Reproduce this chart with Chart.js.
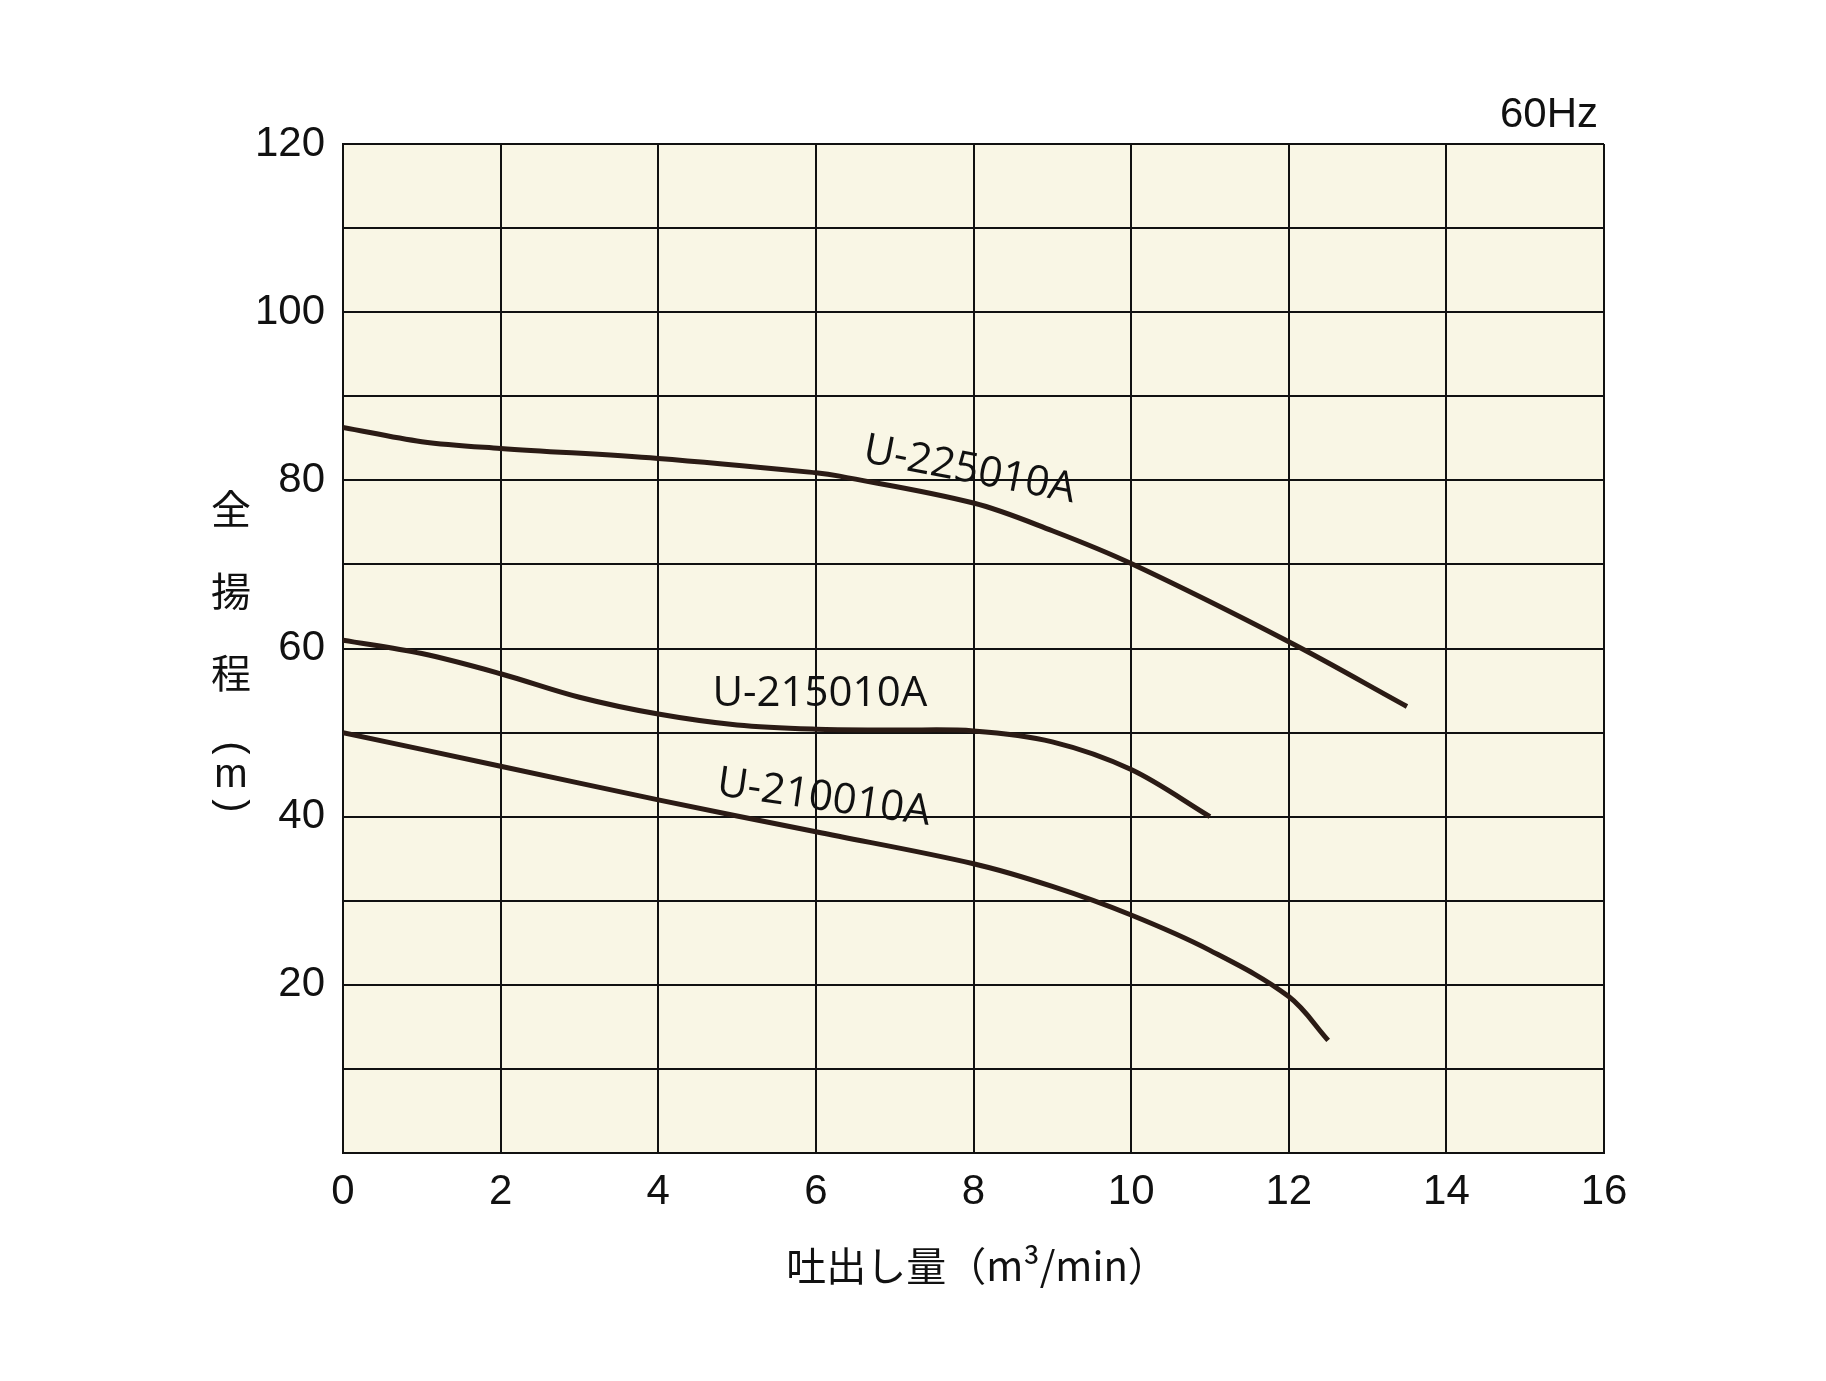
<!DOCTYPE html>
<html><head><meta charset="utf-8">
<script src="https://cdn.jsdelivr.net/npm/chart.js@4"></script>
<style>html,body{margin:0;background:#fff}#c{display:block}</style>
</head><body>
<div style="width:1826px;height:1381px"><canvas id="c"></canvas></div>
<script>
const flowU225 = [0, 1, 2, 4, 6, 6.3, 8, 9, 10, 12, 13.5];
const headU225 = [86.3, 84.6, 83.8, 82.6, 80.9, 80.5, 77.3, 74, 70.1, 60.8, 53.1];
const flowU215 = [0, 1, 2, 3, 4, 5, 6, 7, 8, 9, 10, 11];
const headU215 = [61, 59.4, 57, 54.2, 52.2, 50.9, 50.4, 50.3, 50.2, 48.9, 45.6, 40];
const flowU210 = [0, 2, 4, 6, 8, 9, 10, 11, 12, 12.5];
const headU210 = [50, 46, 42, 38.2, 34.4, 31.7, 28.3, 24.1, 18.6, 13.4];
const curveNames = ['U-225010A', 'U-215010A', 'U-210010A'];

const lineColor = '#2b1b15';
const font = "'Liberation Sans', 'Noto Sans CJK JP', sans-serif";
const toPts = (xs, ys) => xs.map((x, i) => ({x: x, y: ys[i]}));

// curve names, drawn at data positions
const labelSpots = [
  {name: curveNames[0], x: 7.95, y: 81.2, rot: 11},
  {name: curveNames[1], x: 6.05, y: 54.6, rot: 0},
  {name: curveNames[2], x: 6.1, y: 42.2, rot: 8}
];

const extras = {
  id: 'extras',
  beforeDraw(chart) {
    const {ctx, chartArea: a} = chart;
    ctx.save();
    ctx.fillStyle = '#f9f6e5';
    ctx.fillRect(a.left, a.top, a.right - a.left, a.bottom - a.top);
    ctx.restore();
  },
  afterDraw(chart) {
    const {ctx, scales: {x, y}} = chart;
    ctx.save();
    ctx.fillStyle = '#111';
    ctx.font = "42px 'Open Sans', sans-serif";
    labelSpots.forEach(s => {
      ctx.save();
      ctx.translate(x.getPixelForValue(s.x), y.getPixelForValue(s.y));
      ctx.rotate(s.rot * Math.PI / 180);
      ctx.textAlign = 'center';
      ctx.textBaseline = 'middle';
      ctx.fillText(s.name, 0, 0);
      ctx.restore();
    });
    ctx.font = '42px ' + font;
    ctx.textAlign = 'right';
    ctx.textBaseline = 'alphabetic';
    ctx.fillText('60Hz', 1598, 127);
    ctx.textAlign = 'center';
    ctx.textBaseline = 'middle';
    ctx.font = "40px 'Noto Sans CJK JP'";
    ctx.fillText('吐出し量（m³/min）', 977, 1266);
    ['全', '揚', '程'].forEach((t, i) => ctx.fillText(t, 231, 509 + i * 82));
    ctx.font = "40px 'Liberation Sans'";
    ctx.fillText('m', 231, 776);
    [['(', 748], [')', 806]].forEach(([t, py]) => {
      ctx.save();
      ctx.translate(231, py);
      ctx.rotate(Math.PI / 2);
      ctx.fillText(t, 0, 0);
      ctx.restore();
    });
    ctx.restore();
  }
};

const ds = (pts) => ({data: pts, borderColor: lineColor, borderWidth: 5, pointRadius: 0, fill: false, tension: 0.35});

new Chart(document.getElementById('c'), {
  type: 'line',
  data: {datasets: [ds(toPts(flowU225, headU225)), ds(toPts(flowU215, headU215)), ds(toPts(flowU210, headU210))]},
  options: {
    responsive: true, maintainAspectRatio: false, animation: false,
    layout: {padding: {left: 0, top: 144, right: 222, bottom: 0}},
    plugins: {legend: {display: false}, tooltip: {enabled: false}},
    scales: {
      x: {
        type: 'linear', min: 0, max: 16,
        ticks: {stepSize: 2, color: '#111', font: {size: 42, family: font}, padding: 14, maxRotation: 0},
        grid: {color: '#111', lineWidth: 2, drawTicks: false},
        border: {color: '#111', width: 2},
        afterFit(s) { s.height = 228; }
      },
      y: {
        min: 0, max: 120,
        ticks: {stepSize: 10, color: '#111', font: {size: 42, family: font}, padding: 18,
          callback: v => (v % 20 === 0 && v !== 0) ? v : ''},
        grid: {color: '#111', lineWidth: 2, drawTicks: false},
        border: {color: '#111', width: 2},
        afterFit(s) { s.width = 343; }
      }
    }
  },
  plugins: [extras]
});
</script>
</body></html>
